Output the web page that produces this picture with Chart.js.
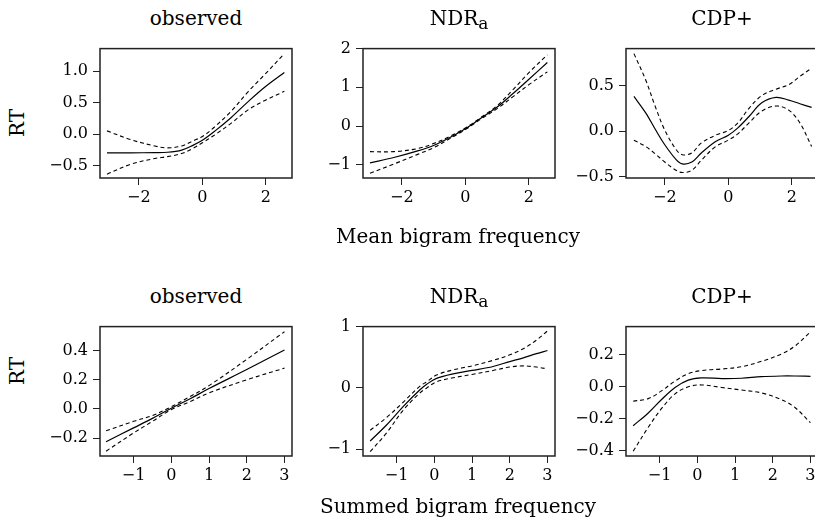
<!DOCTYPE html>
<html>
<head>
<meta charset="utf-8">
<script src="https://cdn.jsdelivr.net/npm/chart.js@4.4.1/dist/chart.umd.min.js"></script>
<style>
  body { margin: 0; width: 815px; height: 525px; overflow: hidden; position: relative; background: #fff; }
  .panel { position: absolute; }
  .txt { position: absolute; font-family: "DejaVu Serif", serif; font-size: 20px; line-height: 20px; color: #000; white-space: nowrap; }
  .title { transform: translateX(-50%); }
  .ylab { transform: translate(-50%, -50%) rotate(-90deg); }
  sub { font-size: 17px; vertical-align: -4px; line-height: 0; }
</style>
</head>
<body>
<div class="panel" style="left:30px;top:34px"><canvas id="p1" width="274" height="184"></canvas></div>
<div class="panel" style="left:293px;top:34px"><canvas id="p2" width="274" height="184"></canvas></div>
<div class="panel" style="left:556px;top:34px"><canvas id="p3" width="274" height="184"></canvas></div>
<div class="panel" style="left:30px;top:312px"><canvas id="p4" width="274" height="184"></canvas></div>
<div class="panel" style="left:293px;top:312px"><canvas id="p5" width="274" height="184"></canvas></div>
<div class="panel" style="left:556px;top:312px"><canvas id="p6" width="274" height="184"></canvas></div>

<div class="txt title" style="left:196px;top:8px">observed</div>
<div class="txt title" style="left:459px;top:8px">NDR<sub>a</sub></div>
<div class="txt title" style="left:722px;top:8px">CDP+</div>
<div class="txt title" style="left:196px;top:286px">observed</div>
<div class="txt title" style="left:459px;top:286px">NDR<sub>a</sub></div>
<div class="txt title" style="left:722px;top:286px">CDP+</div>

<div class="txt ylab" style="left:17px;top:123px">RT</div>
<div class="txt ylab" style="left:17px;top:371px">RT</div>
<div class="txt title" style="left:458px;top:226px">Mean bigram frequency</div>
<div class="txt title" style="left:458px;top:496px">Summed bigram frequency</div>

<script>
// --- top row: mean bigram frequency ---
const obsMeanX   = [-3.0, -2.25, -1.5, -1.1, -0.65, -0.3, 0, 0.4, 0.9, 1.45, 1.95, 2.58];
const obsMeanFit = [-0.30, -0.30, -0.295, -0.29, -0.255, -0.18, -0.10, 0.05, 0.26, 0.52, 0.74, 0.98];
const obsMeanHi  = [0.05, -0.09, -0.19, -0.22, -0.19, -0.11, -0.04, 0.12, 0.36, 0.68, 0.94, 1.28];
const obsMeanLo  = [-0.64, -0.48, -0.39, -0.36, -0.31, -0.23, -0.14, -0.01, 0.17, 0.39, 0.53, 0.68];

const ndrMeanX   = [-3.0, -2.25, -1.5, -1.0, -0.5, 0, 0.45, 1.0, 1.5, 2.0, 2.58];
const ndrMeanFit = [-0.95, -0.81, -0.64, -0.50, -0.30, -0.07, 0.18, 0.49, 0.84, 1.21, 1.64];
const ndrMeanHi  = [-0.66, -0.66, -0.58, -0.45, -0.27, -0.05, 0.20, 0.53, 0.94, 1.38, 1.84];
const ndrMeanLo  = [-1.22, -0.98, -0.73, -0.56, -0.33, -0.09, 0.16, 0.45, 0.76, 1.07, 1.40];

const cdpMeanX   = [-2.97, -2.6, -2.3, -2.0, -1.65, -1.45, -1.15, -0.85, -0.4, 0, 0.3, 0.65, 1.05, 1.5, 1.9, 2.25, 2.62];
const cdpMeanFit = [0.38, 0.20, 0.02, -0.15, -0.31, -0.36, -0.34, -0.24, -0.115, -0.045, 0.035, 0.16, 0.31, 0.37, 0.34, 0.30, 0.26];
const cdpMeanHi  = [0.85, 0.56, 0.27, 0.01, -0.20, -0.26, -0.24, -0.13, -0.045, 0.007, 0.09, 0.25, 0.39, 0.46, 0.51, 0.60, 0.69];
const cdpMeanLo  = [-0.10, -0.17, -0.25, -0.34, -0.43, -0.455, -0.43, -0.32, -0.17, -0.10, -0.03, 0.09, 0.22, 0.275, 0.23, 0.09, -0.17];

// --- bottom row: summed bigram frequency ---
const obsSumX   = [-1.73, -1, -0.5, 0, 0.5, 1, 2, 3];
const obsSumFit = [-0.225, -0.13, -0.065, 0.005, 0.07, 0.14, 0.27, 0.405];
const obsSumHi  = [-0.15, -0.085, -0.045, 0.015, 0.085, 0.16, 0.34, 0.53];
const obsSumLo  = [-0.29, -0.165, -0.085, -0.005, 0.05, 0.11, 0.20, 0.28];

const ndrSumX   = [-1.70, -1.26, -0.82, -0.38, -0.2, 0.06, 0.5, 1.0, 1.56, 2.0, 2.36, 2.71, 3.0];
const ndrSumFit = [-0.865, -0.60, -0.30, -0.03, 0.06, 0.155, 0.23, 0.285, 0.35, 0.43, 0.49, 0.56, 0.61];
const ndrSumHi  = [-0.69, -0.48, -0.23, 0.03, 0.10, 0.21, 0.295, 0.36, 0.45, 0.54, 0.64, 0.78, 0.93];
const ndrSumLo  = [-1.04, -0.73, -0.36, -0.08, 0.0, 0.10, 0.165, 0.22, 0.285, 0.34, 0.36, 0.34, 0.31];

const cdpSumX   = [-1.70, -1.30, -0.94, -0.59, -0.24, 0.11, 0.65, 1.17, 1.70, 2.23, 2.59, 3.0];
const cdpSumFit = [-0.244, -0.164, -0.078, -0.004, 0.042, 0.056, 0.052, 0.054, 0.064, 0.068, 0.068, 0.066];
const cdpSumHi  = [-0.09, -0.074, -0.024, 0.036, 0.082, 0.102, 0.112, 0.126, 0.16, 0.206, 0.256, 0.345];
const cdpSumLo  = [-0.404, -0.254, -0.134, -0.044, 0.0, 0.012, -0.004, -0.02, -0.038, -0.08, -0.13, -0.225];

// tick values
const meanTicksX = [-2, 0, 2];
const sumTicksX  = [-1, 0, 1, 2, 3];
const obsMeanTicksY = [-0.5, 0, 0.5, 1.0];
const ndrMeanTicksY = [-1, 0, 1, 2];
const cdpMeanTicksY = [-0.5, 0, 0.5];
const obsSumTicksY  = [-0.2, 0, 0.2, 0.4];
const ndrSumTicksY  = [-1, 0, 1];
const cdpSumTicksY  = [-0.4, -0.2, 0, 0.2];

// R style minus sign
const fmt = dec => v => (v < 0 ? '\u2212' : '') + Math.abs(v).toFixed(dec);

// full box round the plot region
const boxPlugin = {
  id: 'box',
  afterDraw(chart) {
    const { ctx, chartArea: a } = chart;
    ctx.save();
    ctx.strokeStyle = '#222';
    ctx.lineWidth = 1.5;
    ctx.strokeRect(a.left, a.top, a.right - a.left, a.bottom - a.top);
    ctx.restore();
  }
};

const tickFont = { family: 'DejaVu Serif', size: 16 };
const gridOpts = { display: true, drawOnChartArea: false, drawTicks: true, tickLength: 7, tickColor: '#222', tickWidth: 1 };

const toPts = (xs, ys) => xs.map((x, i) => ({ x: x, y: ys[i] }));

const makePanel = (id, xs, fit, hi, lo, xr, yr, xt, yt, ydec) => {
  const ctx = document.getElementById(id).getContext('2d');
  return new Chart(ctx, {
    type: 'line',
    data: {
      datasets: [
        { data: toPts(xs, fit), borderColor: '#000', borderWidth: 1.2 },
        { data: toPts(xs, hi), borderColor: '#000', borderWidth: 1.1, borderDash: [4, 3] },
        { data: toPts(xs, lo), borderColor: '#000', borderWidth: 1.1, borderDash: [4, 3] }
      ]
    },
    options: {
      responsive: false,
      animation: false,
      events: [],
      layout: { padding: { top: 8, right: 12, left: 0, bottom: 0 } },
      plugins: { legend: { display: false }, tooltip: { enabled: false } },
      elements: { point: { radius: 0 }, line: { tension: 0.35 } },
      scales: {
        x: {
          type: 'linear', min: xr[0], max: xr[1],
          afterBuildTicks: s => { s.ticks = xt.map(v => ({ value: v })); },
          afterFit: s => { s.height = 40; },
          grid: gridOpts,
          border: { display: false },
          ticks: { color: '#000', font: tickFont, padding: 3, maxRotation: 0, autoSkip: false, callback: fmt(0) }
        },
        y: {
          type: 'linear', min: yr[0], max: yr[1],
          afterBuildTicks: s => { s.ticks = yt.map(v => ({ value: v })); },
          afterFit: s => { s.width = 70; },
          grid: gridOpts,
          border: { display: false },
          ticks: { color: '#000', font: tickFont, padding: 5, autoSkip: false, callback: fmt(ydec) }
        }
      }
    },
    plugins: [boxPlugin]
  });
};

const meanRange = [-3.22, 2.82];
const sumRange = [-1.89, 3.2];

makePanel('p1', obsMeanX, obsMeanFit, obsMeanHi, obsMeanLo, meanRange, [-0.70, 1.36], meanTicksX, obsMeanTicksY, 1);
makePanel('p2', ndrMeanX, ndrMeanFit, ndrMeanHi, ndrMeanLo, meanRange, [-1.34, 2.0], meanTicksX, ndrMeanTicksY, 0);
makePanel('p3', cdpMeanX, cdpMeanFit, cdpMeanHi, cdpMeanLo, meanRange, [-0.515, 0.905], meanTicksX, cdpMeanTicksY, 1);
makePanel('p4', obsSumX, obsSumFit, obsSumHi, obsSumLo, sumRange, [-0.323, 0.565], sumTicksX, obsSumTicksY, 1);
makePanel('p5', ndrSumX, ndrSumFit, ndrSumHi, ndrSumLo, sumRange, [-1.11, 1.0], sumTicksX, ndrSumTicksY, 0);
makePanel('p6', cdpSumX, cdpSumFit, cdpSumHi, cdpSumLo, sumRange, [-0.434, 0.378], sumTicksX, cdpSumTicksY, 1);
</script>
</body>
</html>
